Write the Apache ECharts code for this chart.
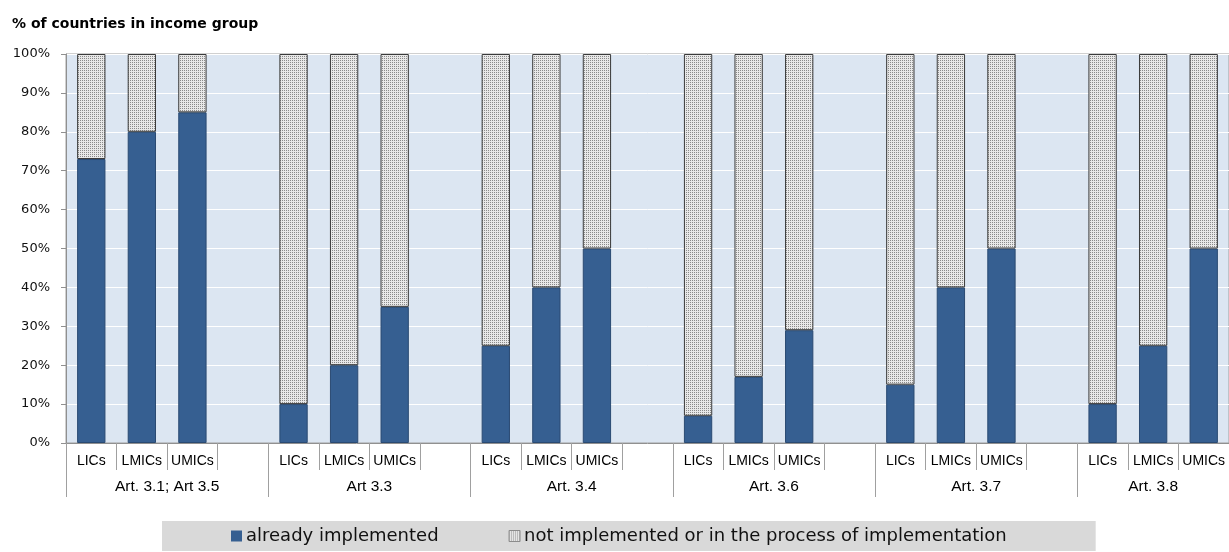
<!DOCTYPE html>
<html>
<head>
<meta charset="utf-8">
<script src="https://cdn.jsdelivr.net/npm/echarts@6/dist/echarts.min.js"></script>
<style>
  html, body { margin: 0; padding: 0; background: #fff; }
  #chart { width: 1229px; height: 552px; }
</style>
</head>
<body>
<div id="chart"></div>
<script>
// Income groups shown for every article; a blank slot separates articles
var incomeGroups = ['LICs', 'LMICs', 'UMICs'];
var articles = ['Art. 3.1; Art 3.5', 'Art 3.3', 'Art. 3.4', 'Art. 3.6', 'Art. 3.7', 'Art. 3.8'];

// Share of countries (%) that have already implemented each provision
var implemented = [
  [73, 80, 85],
  [10, 20, 35],
  [25, 40, 50],
  [7, 17, 29],
  [15, 40, 50],
  [10, 25, 50]
];

var seriesNames = ['already implemented', 'not implemented or in the process of implementation'];
var yTicks = [0, 10, 20, 30, 40, 50, 60, 70, 80, 90, 100];

// Flatten into one category list: 3 bars per article + a spacer (none after the last)
var categories = [];
var doneVals = [];
var notVals = [];
var groupStarts = [];
articles.forEach(function (art, gi) {
  groupStarts.push(categories.length);
  incomeGroups.forEach(function (g, ii) {
    categories.push(g);
    doneVals.push(implemented[gi][ii]);
    notVals.push(100 - implemented[gi][ii]);
  });
  if (gi < articles.length - 1) {
    categories.push('');
    doneVals.push(null);
    notVals.push(null);
  }
});
// a 4-slot group is centred on its middle boundary, the last (3-slot) one on its middle bar
var groupCenters = groupStarts.map(function (s, gi) {
  return gi < articles.length - 1 ? s + 2 : s + 1.5;
});
var slotCount = categories.length;

// Dotted fill for the "not implemented" part
function dotPattern() {
  var c = document.createElement('canvas');
  c.width = 2; c.height = 2;
  var ctx = c.getContext('2d');
  ctx.fillStyle = '#e8e8e8';
  ctx.fillRect(0, 0, 2, 2);
  ctx.fillStyle = '#8a8a8a';
  ctx.fillRect(0, 0, 1, 1);
  return c;
}
var dots = dotPattern();

var chart = echarts.init(document.getElementById('chart'), null, { renderer: 'canvas' });

chart.setOption({
  animation: false,
  backgroundColor: '#ffffff',
  textStyle: { fontFamily: 'Liberation Sans, Arial, sans-serif' },
  title: {
    text: '% of countries in income group',
    left: 7,
    top: 12,
    textStyle: { fontSize: 14, fontWeight: 'bold', color: '#000', fontFamily: 'DejaVu Sans' }
  },
  legend: {
    data: [
      { name: seriesNames[0], itemStyle: { borderWidth: 0 } },
      { name: seriesNames[1], itemStyle: { borderWidth: 1, borderColor: '#8c8c8c' } }
    ],
    left: 162,
    top: 521,
    backgroundColor: '#d9d9d9',
    padding: [6, 89, 6, 69],
    itemGap: 70,
    itemWidth: 11,
    itemHeight: 11,
    icon: 'rect',
    textStyle: { fontSize: 18, color: '#111', fontFamily: 'DejaVu Sans', padding: [0, 0, 0, -1] }
  },
  grid: {
    left: 66,
    right: 0,
    top: 54,
    bottom: 109,
    show: true,
    backgroundColor: '#dce6f2',
    borderColor: '#a0a0a0',
    borderWidth: 1
  },
  xAxis: [
    {
      type: 'category',
      data: categories,
      boundaryGap: true,
      axisLine: { show: true, lineStyle: { color: '#909090', width: 1 } },
      axisTick: { show: true, interval: 0, length: 27, lineStyle: { color: '#a0a0a0' } },
      axisLabel: { interval: 0, margin: 11, fontSize: 14, color: '#000' },
      splitLine: { show: false }
    },
    {
      type: 'value',
      position: 'bottom',
      min: 0,
      max: slotCount,
      axisLine: { show: false },
      axisTick: {
        show: true,
        customValues: groupStarts,
        length: 54,
        lineStyle: { color: '#a0a0a0' }
      },
      axisLabel: {
        show: true,
        customValues: groupCenters,
        margin: 36,
        fontSize: 15.5,
        color: '#000',
        formatter: function (v) {
          var i = groupCenters.indexOf(v);
          return i >= 0 ? articles[i] : '';
        }
      },
      splitLine: { show: false }
    }
  ],
  yAxis: {
    type: 'value',
    min: 0,
    max: 100,
    interval: 10,
    axisLine: { show: true, lineStyle: { color: '#909090' } },
    axisTick: { show: true, length: 5, lineStyle: { color: '#909090' } },
    axisLabel: {
      fontSize: 13,
      color: '#111',
      margin: 16,
      fontFamily: 'DejaVu Sans',
      customValues: yTicks,
      formatter: '{value}%'
    },
    splitLine: { show: true, lineStyle: { color: '#ffffff', width: 1 } }
  },
  series: [
    {
      name: seriesNames[0],
      type: 'bar',
      stack: 'share',
      xAxisIndex: 0,
      barWidth: '56%',
      data: doneVals,
      itemStyle: { color: '#365f91', borderColor: '#2a4a72', borderWidth: 1 }
    },
    {
      name: seriesNames[1],
      type: 'bar',
      stack: 'share',
      xAxisIndex: 0,
      barWidth: '56%',
      data: notVals,
      itemStyle: {
        color: { image: dots, repeat: 'repeat' },
        borderColor: '#3a3a3a',
        borderWidth: 1
      }
    }
  ]
});
</script>
</body>
</html>
